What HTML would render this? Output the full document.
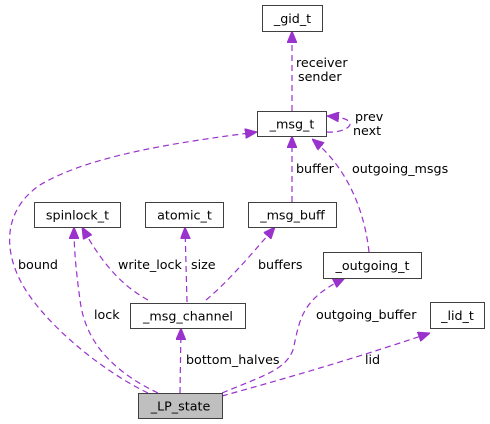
<!DOCTYPE html>
<html><head><meta charset="utf-8"><style>
html,body{margin:0;padding:0;background:#fff;}
svg{display:block;}
text{font-family:"DejaVu Sans","Liberation Sans",sans-serif;font-size:12.7px;fill:#000;}
.e{fill:none;stroke:#9a32cd;stroke-width:1.2;stroke-dasharray:6,4;}
.n{fill:#fff;stroke:#404040;stroke-width:1;}
</style></head><body>
<svg width="490" height="424" viewBox="0 0 490 424" xmlns="http://www.w3.org/2000/svg">
<defs><marker id="a" markerWidth="12" markerHeight="10" refX="12" refY="5" orient="auto" markerUnits="userSpaceOnUse"><path d="M0,0 L12,5 L0,10 z" fill="#9a32cd" stroke="#9a32cd"/></marker></defs>
<path class="e" d="M292,111 L292,31" marker-end="url(#a)"/>
<path class="e" d="M327,132 C340,133 350,128 350,124 C350,119 340,117 327,116" marker-end="url(#a)"/>
<path class="e" d="M148,393 C100,370 40,320 20,280 C0,240 10,205 40,185 C90,155 180,142 257,132" marker-end="url(#a)"/>
<path class="e" d="M292,202 L292,136" marker-end="url(#a)"/>
<path class="e" d="M369,252 C365,215 350,170 312,139" marker-end="url(#a)"/>
<path class="e" d="M158,393 C110,370 85,340 80,300 C76,270 74,250 74,227" marker-end="url(#a)"/>
<path class="e" d="M148,300 C120,285 100,260 82,227" marker-end="url(#a)"/>
<path class="e" d="M187,302 L185,227" marker-end="url(#a)"/>
<path class="e" d="M206,300 C230,280 255,250 275,227" marker-end="url(#a)"/>
<path class="e" d="M222,393 C265,375 285,370 293,350 C300,320 300,300 345,278" marker-end="url(#a)"/>
<path class="e" d="M222,396 C280,380 350,360 430,333" marker-end="url(#a)"/>
<path class="e" d="M180,393 L181,328" marker-end="url(#a)"/>
<rect class="n" x="262.5" y="5.5" width="60" height="26"/><text x="292.5" y="23" text-anchor="middle">_gid_t</text>
<rect class="n" x="257.5" y="111.5" width="69" height="25"/><text x="292" y="128.5" text-anchor="middle">_msg_t</text>
<rect class="n" x="34.5" y="202.5" width="86" height="25"/><text x="77.5" y="219.5" text-anchor="middle">spinlock_t</text>
<rect class="n" x="145.5" y="202.5" width="78" height="25"/><text x="184.5" y="219.5" text-anchor="middle">atomic_t</text>
<rect class="n" x="248.5" y="202.5" width="88" height="25"/><text x="292.5" y="219.5" text-anchor="middle">_msg_buff</text>
<rect class="n" x="323.5" y="252.5" width="98" height="26"/><text x="372.5" y="270" text-anchor="middle">_outgoing_t</text>
<rect class="n" x="430.5" y="302.5" width="54" height="26"/><text x="457.5" y="320" text-anchor="middle">_lid_t</text>
<rect class="n" x="130.5" y="303.5" width="115" height="25"/><text x="188" y="320.5" text-anchor="middle">_msg_channel</text>
<rect x="138.5" y="393.5" width="84" height="25" fill="#bfbfbf" stroke="#404040"/><text x="180.5" y="410.5" text-anchor="middle">_LP_state</text>
<text x="296" y="67">receiver</text><text x="298" y="81">sender</text>
<text x="355" y="121">prev</text><text x="353" y="135">next</text>
<text x="296" y="173">buffer</text><text x="352" y="173">outgoing_msgs</text>
<text x="18" y="269">bound</text><text x="118" y="269">write_lock</text>
<text x="191" y="269">size</text><text x="258" y="269">buffers</text>
<text x="94" y="319">lock</text><text x="316" y="319">outgoing_buffer</text>
<text x="186" y="364">bottom_halves</text><text x="365" y="364">lid</text>
</svg>
</body></html>
